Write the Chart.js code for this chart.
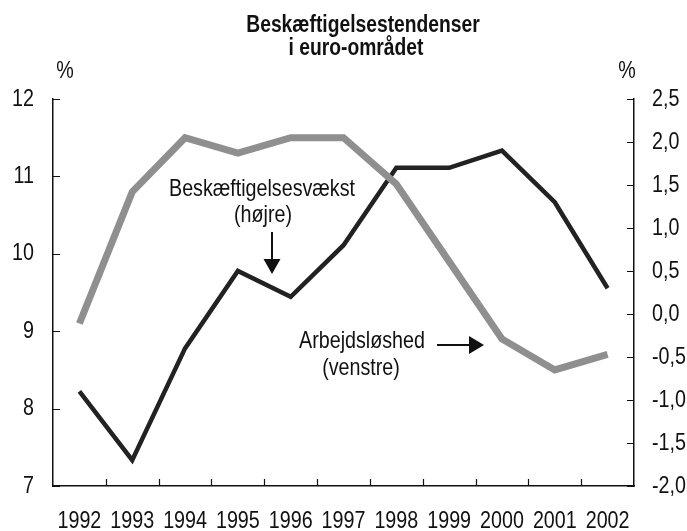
<!DOCTYPE html>
<html>
<head>
<meta charset="utf-8">
<script src="https://cdn.jsdelivr.net/npm/chart.js@4.4.1/dist/chart.umd.min.js"></script>
<style>
  html, body { margin: 0; padding: 0; background: #fff; }
  #wrap { width: 687px; height: 531px; }
</style>
</head>
<body>
<div id="wrap"><canvas id="chart" width="687" height="531"></canvas></div>
<script>
const years = ['1992', '1993', '1994', '1995', '1996', '1997', '1998', '1999', '2000', '2001', '2002'];
const unemployment = [9.1, 10.8, 11.5, 11.3, 11.5, 11.5, 10.9, 9.9, 8.9, 8.5, 8.7];
const employmentGrowth = [-0.9, -1.7, -0.4, 0.5, 0.2, 0.8, 1.7, 1.7, 1.9, 1.3, 0.3];
const leftTicks = [7, 8, 9, 10, 11, 12];
const rightTicks = [-2.0, -1.5, -1.0, -0.5, 0.0, 0.5, 1.0, 1.5, 2.0, 2.5];

const FONT = "'Liberation Sans', Arial, sans-serif";
const INK = '#111';
const NARROW = 0.82; // the original uses a condensed face

// text squeezed horizontally to imitate Arial Narrow
const narrowText = (ctx, str, x, y, align) => {
  ctx.save();
  ctx.translate(x, y);
  ctx.scale(NARROW, 1);
  ctx.textAlign = align || 'center';
  ctx.fillText(str, 0, 0);
  ctx.restore();
};

const axisDecor = {
  id: 'axisDecor',
  afterDatasetsDraw(chart) {
    const { ctx, chartArea: a } = chart;
    const x = chart.scales.x, yl = chart.scales.yl, yr = chart.scales.yr;
    const len = 7;
    ctx.save();
    ctx.strokeStyle = INK;
    ctx.lineWidth = 1.2;
    ctx.beginPath();
    leftTicks.forEach((v) => {
      const py = Math.round(yl.getPixelForValue(v)) + 0.5;
      ctx.moveTo(a.left, py); ctx.lineTo(a.left + len, py);
    });
    rightTicks.forEach((v) => {
      const py = Math.round(yr.getPixelForValue(v)) + 0.5;
      ctx.moveTo(a.right, py); ctx.lineTo(a.right - len, py);
    });
    for (let i = 0; i < years.length - 1; i++) {
      const px = Math.round((x.getPixelForValue(i) + x.getPixelForValue(i + 1)) / 2) + 0.5;
      ctx.moveTo(px, a.bottom); ctx.lineTo(px, a.bottom - len);
    }
    ctx.stroke();

    ctx.fillStyle = INK;
    ctx.textBaseline = 'middle';
    ctx.font = `24px ${FONT}`;
    leftTicks.forEach((v) => narrowText(ctx, String(v), a.left - 19, yl.getPixelForValue(v), 'right'));
    rightTicks.forEach((v) => narrowText(ctx, v.toFixed(1).replace('.', ','), a.right + 18, yr.getPixelForValue(v), 'left'));
    years.forEach((yr_, i) => narrowText(ctx, yr_, x.getPixelForValue(i), 521, 'center'));
    ctx.restore();
  },
};

const annotations = {
  id: 'annotations',
  afterDraw(chart) {
    const { ctx } = chart;
    ctx.save();
    ctx.fillStyle = INK;
    ctx.textBaseline = 'middle';
    ctx.font = `bold 23.5px ${FONT}`;
    narrowText(ctx, 'Beskæftigelsestendenser', 363, 26);
    narrowText(ctx, 'i euro-området', 356, 49);
    ctx.font = `24px ${FONT}`;
    narrowText(ctx, '%', 65, 71);
    narrowText(ctx, '%', 627, 71);
    narrowText(ctx, 'Beskæftigelsesvækst', 262, 189);
    narrowText(ctx, '(højre)', 263, 215);
    narrowText(ctx, 'Arbejdsløshed', 362, 341);
    narrowText(ctx, '(venstre)', 361, 368);

    // arrows
    ctx.strokeStyle = INK;
    ctx.lineWidth = 2;
    ctx.beginPath();
    ctx.moveTo(272, 232); ctx.lineTo(272, 262);
    ctx.moveTo(437, 345); ctx.lineTo(472, 345);
    ctx.stroke();
    ctx.beginPath();
    ctx.moveTo(263.5, 259); ctx.lineTo(280.5, 259); ctx.lineTo(272, 274); ctx.closePath();
    ctx.moveTo(469, 336); ctx.lineTo(469, 354); ctx.lineTo(484, 345); ctx.closePath();
    ctx.fill();
    ctx.restore();
  },
};

new Chart(document.getElementById('chart'), {
  type: 'line',
  data: {
    labels: years,
    datasets: [
      {
        label: 'Arbejdsløshed (venstre)',
        data: unemployment,
        yAxisID: 'yl',
        borderColor: '#8f8f8f',
        borderWidth: 7,
        pointRadius: 0,
        tension: 0,
        borderJoinStyle: 'miter',
      },
      {
        label: 'Beskæftigelsesvækst (højre)',
        data: employmentGrowth,
        yAxisID: 'yr',
        borderColor: '#222',
        borderWidth: 4.5,
        pointRadius: 0,
        tension: 0,
        borderJoinStyle: 'miter',
      },
    ],
  },
  plugins: [axisDecor, annotations],
  options: {
    responsive: false,
    animation: false,
    layout: { padding: { top: 99, left: 0, right: 0, bottom: 0 } },
    plugins: { legend: { display: false }, tooltip: { enabled: false }, title: { display: false } },
    scales: {
      x: {
        offset: true,
        grid: { display: false, drawTicks: false },
        border: { display: true, color: INK, width: 1.5 },
        ticks: { display: false },
        afterFit: (s) => { s.height = 45; },
      },
      yl: {
        position: 'left',
        min: 7,
        max: 12,
        afterBuildTicks: (s) => { s.ticks = leftTicks.map((v) => ({ value: v })); },
        grid: { display: false, drawTicks: false },
        border: { display: true, color: INK, width: 1.5 },
        ticks: { display: false },
        afterFit: (s) => { s.width = 53; },
      },
      yr: {
        position: 'right',
        min: -2,
        max: 2.5,
        afterBuildTicks: (s) => { s.ticks = rightTicks.map((v) => ({ value: v })); },
        grid: { display: false, drawTicks: false },
        border: { display: true, color: INK, width: 1.5 },
        ticks: { display: false },
        afterFit: (s) => { s.width = 53; },
      },
    },
  },
});
</script>
</body>
</html>
